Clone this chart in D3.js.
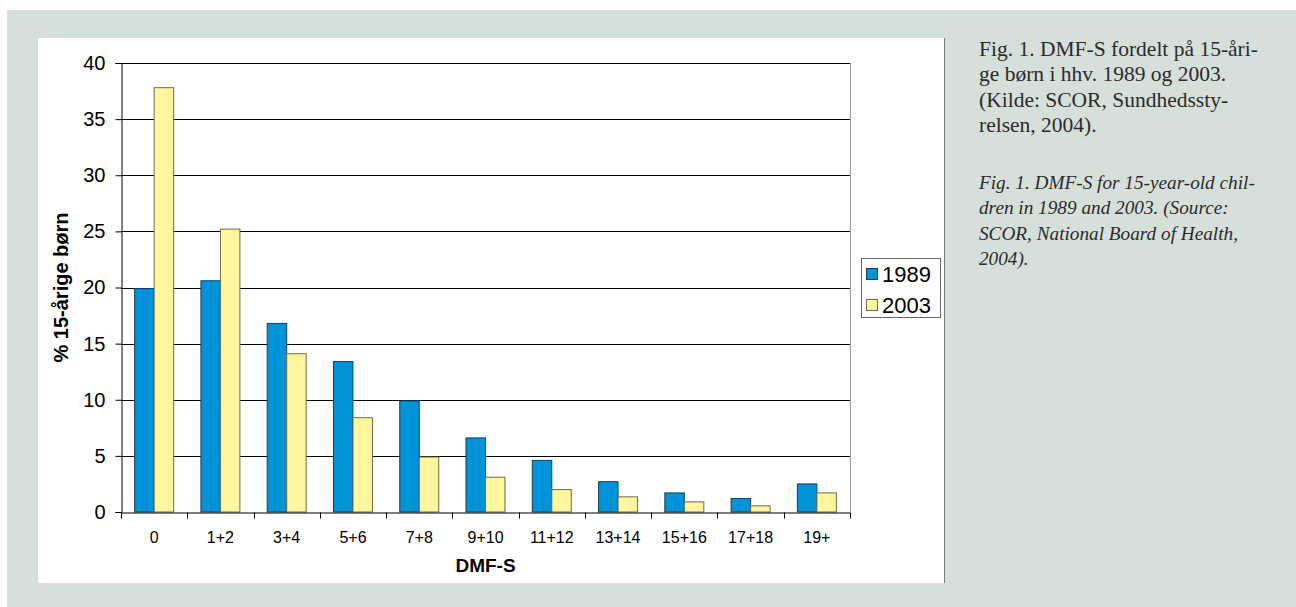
<!DOCTYPE html>
<html>
<head>
<meta charset="utf-8">
<script src="https://cdn.jsdelivr.net/npm/d3@7"></script>
<style>
  html, body { margin: 0; padding: 0; background: #ffffff; }
  svg { display: block; }
</style>
</head>
<body>
<svg id="chart" width="1296" height="607"></svg>
<script>
// ---- data ----
const categories = ["0", "1+2", "3+4", "5+6", "7+8", "9+10", "11+12", "13+14", "15+16", "17+18", "19+"];
const series = ["1989", "2003"];
const values1989 = [19.9, 20.6, 16.8, 13.4, 9.9, 6.6, 4.6, 2.7, 1.7, 1.2, 2.5];
const values2003 = [37.8, 25.2, 14.1, 8.4, 4.9, 3.1, 2.0, 1.35, 0.9, 0.55, 1.7];
const yTicks = [0, 5, 10, 15, 20, 25, 30, 35, 40];
const yTitle = "% 15-årige børn";
const xTitle = "DMF-S";
const captionDa = ["Fig. 1. DMF-S fordelt på 15-åri-", "ge børn i hhv. 1989 og 2003.", "(Kilde: SCOR, Sundhedssty-", "relsen, 2004)."];
const captionEn = ["Fig. 1. DMF-S for 15-year-old chil-", "dren in 1989 and 2003. (Source:", "SCOR, National Board of Health,", "2004)."];

(function () {
const seriesValues = [values1989, values2003];
const colors = { "1989": "#0093d8", "2003": "#fff79f" };
const strokes = { "1989": "#0b4266", "2003": "#6e6a45" };

const svg = d3.select("#chart");

// backgrounds
svg.append("rect").attr("x", 0).attr("y", 0).attr("width", 1296).attr("height", 607).attr("fill", "#ffffff");
svg.append("rect").attr("x", 7).attr("y", 10).attr("width", 1289).attr("height", 597).attr("fill", "#d6e0db");
svg.append("rect").attr("x", 38).attr("y", 38).attr("width", 907).attr("height", 545).attr("fill", "#ffffff");
svg.append("line").attr("x1", 944.5).attr("x2", 944.5).attr("y1", 38).attr("y2", 583).attr("stroke", "#7a7a7a").attr("stroke-width", 1);

// plot area
const pl = 121, pr = 850, pt = 63, pb = 512;
const x0 = d3.scaleBand().domain(categories).range([pl, pr]).padding(0);
const x1 = d3.scaleBand().domain(series).range([0, x0.bandwidth()]).paddingInner(0).paddingOuter(0.7);
const y = d3.scaleLinear().domain([0, 40]).range([pb, pt]);

const g = svg.append("g");

// gridlines
g.append("g").selectAll("line").data(yTicks.filter(d => d > 0)).join("line")
  .attr("x1", pl).attr("x2", pr)
  .attr("y1", d => Math.round(y(d)) + 0.5).attr("y2", d => Math.round(y(d)) + 0.5)
  .attr("stroke", "#000").attr("stroke-width", 1.2);

// right plot border
g.append("line").attr("x1", pr + 0.5).attr("x2", pr + 0.5).attr("y1", pt).attr("y2", pb)
  .attr("stroke", "#a0a0a0").attr("stroke-width", 1);

// bars
const rows = categories.map((c, i) => ({ cat: c, vals: series.map((s, j) => ({ s, v: seriesValues[j][i] })) }));
const groups = g.append("g").selectAll("g").data(rows).join("g")
  .attr("transform", d => `translate(${x0(d.cat)},0)`);
groups.selectAll("rect").data(d => d.vals).join("rect")
  .attr("x", d => x1(d.s))
  .attr("y", d => y(d.v))
  .attr("width", x1.bandwidth())
  .attr("height", d => y(0) - y(d.v))
  .attr("fill", d => colors[d.s])
  .attr("stroke", d => strokes[d.s])
  .attr("stroke-width", 1);

// y axis
const yAxis = d3.axisLeft(y).tickValues(yTicks).tickSize(6).tickPadding(10).tickFormat(d3.format("d"));
const yg = svg.append("g").attr("transform", `translate(${pl + 0.5},0)`).call(yAxis);
yg.select(".domain").attr("stroke", "#000");
yg.selectAll(".tick line").attr("stroke", "#000");
yg.selectAll(".tick text").attr("font-family", "'Liberation Sans', Arial, sans-serif").attr("font-size", 20).attr("fill", "#000");

// x axis
const xAxis = d3.axisBottom(x0).tickSize(0).tickPadding(19);
const xg = svg.append("g").attr("transform", `translate(0,${pb + 0.5})`).call(xAxis);
xg.select(".domain").attr("stroke", "#000");
xg.selectAll(".tick text").attr("font-family", "'Liberation Sans', Arial, sans-serif").attr("font-size", 16).attr("fill", "#000");
// x tick marks at band boundaries
const boundaries = categories.map(c => x0(c)).concat([pr]);
xg.append("g").selectAll("line").data(boundaries).join("line")
  .attr("x1", d => Math.round(d) + 0.5).attr("x2", d => Math.round(d) + 0.5)
  .attr("y1", 0).attr("y2", 6).attr("stroke", "#000");

// axis titles
svg.append("text")
  .attr("transform", `translate(68,${(pt + pb) / 2}) rotate(-90)`)
  .attr("text-anchor", "middle")
  .attr("font-family", "'Liberation Sans', Arial, sans-serif")
  .attr("font-weight", "bold").attr("font-size", 20)
  .text(yTitle);
svg.append("text")
  .attr("x", (pl + pr) / 2).attr("y", 572)
  .attr("text-anchor", "middle")
  .attr("font-family", "'Liberation Sans', Arial, sans-serif")
  .attr("font-weight", "bold").attr("font-size", 19)
  .text(xTitle);

// legend
const lg = svg.append("g");
lg.append("rect").attr("x", 861.5).attr("y", 258.5).attr("width", 79).attr("height", 59)
  .attr("fill", "#fff").attr("stroke", "#666").attr("stroke-width", 1);
series.forEach((s, i) => {
  const cy = 274 + i * 31;
  lg.append("rect").attr("x", 866.5).attr("y", cy - 5.5).attr("width", 11).attr("height", 11)
    .attr("fill", colors[s]).attr("stroke", strokes[s]).attr("stroke-width", 1);
  lg.append("text").attr("x", 882).attr("y", cy + 7.5)
    .attr("font-family", "'Liberation Sans', Arial, sans-serif").attr("font-size", 22)
    .attr("fill", "#000").text(s);
});

// captions
function captionBlock(lines, startY, italic, targetWidth) {
  const t = svg.append("g");
  const texts = lines.map((ln, i) => t.append("text")
    .attr("x", 979).attr("y", startY + i * 25.5)
    .attr("font-family", "'Liberation Serif', 'Times New Roman', serif")
    .attr("font-style", italic ? "italic" : "normal")
    .attr("font-size", 16).attr("fill", "#2b2b2b").text(ln));
  const w = texts[0].node().getComputedTextLength();
  const size = 16 * targetWidth / w;
  texts.forEach(tx => tx.attr("font-size", size));
}
captionBlock(captionDa, 55.5, false, 279);
captionBlock(captionEn, 188.5, true, 276);
})();
</script>
</body>
</html>
